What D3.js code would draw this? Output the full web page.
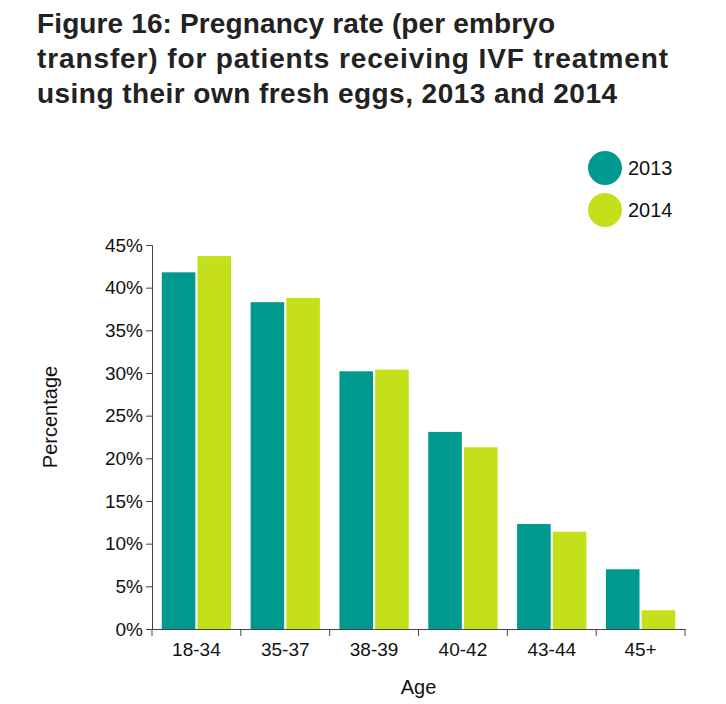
<!DOCTYPE html>
<html><head><meta charset="utf-8">
<script src="https://cdn.jsdelivr.net/npm/d3@7"></script>
<style>body{margin:0;background:#fff;font-family:"Liberation Sans",Arial,sans-serif}</style>
</head><body><svg id="c" width="726" height="704"></svg>
<script>
const categories=["18-34","35-37","38-39","40-42","43-44","45+"];
const series=["2013","2014"];
const values2013=[41.8,38.3,30.2,23.1,12.3,7.0];
const values2014=[43.7,38.8,30.4,21.3,11.4,2.2];
const yTicks=[0,5,10,15,20,25,30,35,40,45];
const colors=["#009990","#c3e01a"];
const svg=d3.select("#c");
const L=152,R=685,T=245,B=629;
const title=["Figure 16: Pregnancy rate (per embryo","transfer) for patients receiving IVF treatment","using their own fresh eggs, 2013 and 2014"];
svg.selectAll("text.t").data(title).join("text").attr("x",37).attr("y",(d,i)=>33+i*35)
 .attr("font-size",28).attr("font-weight","bold").attr("fill","#222").attr("textLength",(d,i)=>[518,631,580][i]).text(d=>d);
const x=d3.scaleBand().domain(categories).range([L,R]).paddingInner(0.22).paddingOuter(0.11);
const x1=d3.scaleBand().domain(series).range([0,x.bandwidth()]).paddingInner(0.06);
const y=d3.scaleLinear().domain([0,45]).range([B,T]);
const data=[values2013,values2014];
series.forEach((s,si)=>{
 svg.append("g").selectAll("rect").data(categories).join("rect")
  .attr("x",c=>x(c)+x1(s)).attr("width",x1.bandwidth())
  .attr("y",(c,i)=>y(data[si][i])).attr("height",(c,i)=>B-y(data[si][i]))
  .attr("fill",colors[si]);
});
const ya=svg.append("g").attr("transform",`translate(${L},0)`)
 .call(d3.axisLeft(y).tickValues(yTicks).tickFormat(d=>d+"%").tickSize(6));
ya.selectAll("text").attr("font-size",19).attr("fill","#111").attr("font-family","Liberation Sans,Arial");
ya.selectAll("path,line").attr("stroke","#444");
const xa=svg.append("g").attr("transform",`translate(0,${B})`)
 .call(d3.axisBottom(x).tickSize(0).tickPadding(14));
xa.selectAll("text").attr("font-size",19).attr("fill","#111").attr("font-family","Liberation Sans,Arial");
xa.select("path").attr("stroke","#444");
const bounds=d3.range(categories.length+1).map(i=>L+(R-L)*i/categories.length);
svg.append("g").selectAll("line").data(bounds).join("line")
 .attr("x1",d=>d).attr("x2",d=>d).attr("y1",B).attr("y2",B+7).attr("stroke","#444");
svg.append("text").attr("x",(L+R)/2).attr("y",694).attr("text-anchor","middle").attr("font-size",20).attr("fill","#111").text("Age");
svg.append("text").attr("transform",`translate(57,${(T+B)/2-20}) rotate(-90)`).attr("text-anchor","middle").attr("font-size",20).attr("fill","#111").text("Percentage");
series.forEach((s,i)=>{
 svg.append("circle").attr("cx",605).attr("cy",168+i*42).attr("r",17).attr("fill",colors[i]);
 svg.append("text").attr("x",628).attr("y",175+i*42).attr("font-size",20).attr("fill","#111").text(s);
});
</script></body></html>
